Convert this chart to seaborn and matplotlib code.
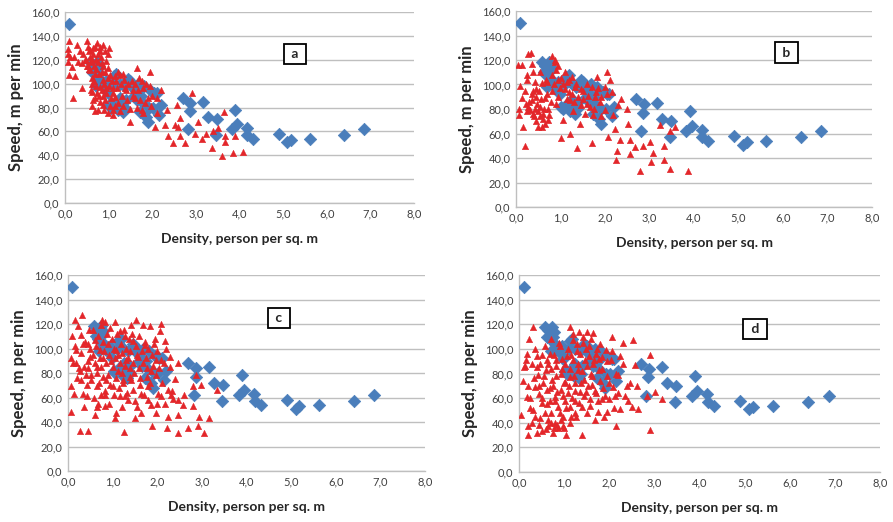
import numpy as np
import pandas as pd
import matplotlib
matplotlib.use("Agg")
import matplotlib.pyplot as plt
import seaborn as sns
from matplotlib.ticker import FuncFormatter

sns.set_style("white")
plt.rcParams['font.family'] = ['Lato', 'DejaVu Sans']

# ---- data ----
panel_labels = ["a", "b", "c", "d"]

blue_x = [0.10, 0.58, 0.62, 0.68, 0.74, 0.78, 0.70, 0.80, 0.85, 0.92, 0.98, 1.02, 1.06, 1.12,
          1.18, 1.22, 1.28, 1.32, 1.38, 1.45, 1.50, 1.58, 1.62, 1.68, 1.72, 1.78, 1.82, 1.86,
          1.90, 1.96, 2.02, 2.10, 2.16, 2.20, 2.70, 2.87, 2.86, 2.82, 3.17, 3.28, 3.48, 3.45,
          3.90, 3.83, 3.95, 4.17, 4.18, 4.32, 4.90, 5.10, 5.18, 5.62, 6.40, 6.86,
          0.65, 0.75, 0.82, 0.95, 1.10, 1.25, 1.35, 1.55, 1.75, 1.25, 1.40, 1.15, 1.65, 1.92, 2.05]
blue_y = [150, 118, 110, 108, 118, 114, 98, 104, 100, 96, 92, 82, 80, 106,
          108, 78, 84, 76, 80, 104, 102, 90, 94, 100, 76, 84, 98, 72,
          68, 94, 80, 92, 74, 82, 88, 84, 77, 62, 85, 72, 70, 57,
          78, 62, 66, 63, 57, 54, 58, 51, 53, 54, 57, 62,
          115, 110, 100, 102, 100, 100, 98, 96, 90, 88, 86, 84, 86, 80, 92]

red_a = [(0.1,136),(0.08,129),(0.06,125),(0.08,118),(0.11,122),(0.15,114),(0.09,107),(0.23,106),
         (0.18,88),(0.27,132),(0.34,127),(0.42,125),(0.38,117),(0.4,96),(0.51,136),(0.53,131),
         (0.57,128),(0.48,120),(0.53,115),(0.57,111),(0.61,121),(0.65,125),(0.69,131),(0.73,134),
         (0.8,131),(0.88,132),(0.92,127),(0.99,125),(0.66,115),(0.76,118),(0.84,117),(0.69,108),
         (0.61,100),(0.61,93),(0.65,86),(0.63,81),(0.69,77),(0.76,78),(0.8,85),(0.88,90),
         (0.73,92),(0.8,97),(0.88,103),(0.92,110),(0.99,113),(1.03,107),(0.95,96),(0.92,86),
         (0.99,75),(1.03,81),(1.11,74),(1.15,81),(1.15,89),(1.11,96),(1.18,102),(1.22,110),
         (1.26,107),(1.35,103),(1.37,96),(1.34,81),(1.41,86),(1.49,79),(1.49,68),(1.53,102),
         (1.56,95),(1.6,88),(1.64,113),(1.68,95),(1.72,86),(1.76,102),(1.79,96),(1.76,78),
         (1.83,84),(1.79,75),(1.95,110),(1.98,81),(2.1,88),(2.06,64),(2.1,75),(2.21,95),
         (2.33,78),(2.29,65),(2.37,56),(2.48,50),(2.52,65),(2.6,64),(2.63,71),(2.56,82),
         (2.63,56),(2.75,50),(2.9,92),(2.98,58),(3.05,68),(3.13,54),(3.24,58),(3.36,46),
         (3.4,60),(3.51,63),(3.59,39),(3.64,76),(3.66,56),(3.66,51),(3.85,42),(3.89,56),
         (4.08,43),
         (0.55,112),(0.6,118),(0.62,105),(0.66,102),(0.7,120),(0.72,112),(0.75,125),(0.78,108),
         (0.82,122),(0.85,110),(0.88,115),(0.9,100),(0.95,119),(0.98,105),(0.6,95),(0.68,88),
         (0.72,98),(0.78,90),(0.84,95),(0.86,82),(0.9,78),(0.94,92),(1.0,98),(1.05,88),
         (1.08,102),(1.1,92),(1.15,106),(1.2,96),(1.22,84),(1.28,100),(1.3,90),(1.33,108),
         (1.4,95),(1.45,100),(1.25,77),(1.1,78),(1.55,90),(1.6,100),(1.7,105),(1.65,80),
         (1.85,100),(1.9,88),(2.0,90),(1.95,98),(0.45,120),(0.5,115),(0.55,127),(0.65,130),
         (0.58,122),(0.8,127),(1.0,130),(0.3,118),(0.2,122)]

red_b = [(0.05,116),(0.13,116),(0.09,99),(0.13,89),(0.07,80),(0.07,75),(0.15,65),(0.2,50),
         (0.24,108),(0.25,104),(0.2,95),(0.22,84),(0.28,82),(0.31,79),(0.28,125),(0.33,126),
         (0.35,117),(0.39,110),(0.43,102),(0.39,95),(0.46,90),(0.35,87),(0.4,74),(0.5,78),
         (0.46,70),(0.5,65),(0.54,110),(0.58,101),(0.54,82),(0.61,76),(0.58,65),(0.65,89),
         (0.69,102),(0.73,80),(0.73,71),(0.8,95),(0.82,123),(0.88,120),(0.91,112),(0.95,104),
         (0.95,90),(0.99,97),(1.0,56),(1.05,71),(1.1,110),(1.14,102),(1.18,94),(1.21,87),
         (1.21,60),(1.25,106),(1.29,78),(1.36,48),(1.32,98),(1.4,90),(1.44,68),(1.47,83),
         (1.51,95),(1.59,100),(1.62,91),(1.66,82),(1.7,52),(1.74,75),(1.77,90),(1.81,106),
         (1.85,97),(1.89,86),(1.92,74),(2.0,98),(2.0,79),(2.04,110),(2.07,57),(2.11,104),
         (2.15,94),(2.19,75),(2.22,64),(2.24,38),(2.26,46),(2.3,83),(2.33,55),(2.37,88),
         (2.49,80),(2.52,68),(2.56,43),(2.56,55),(2.67,49),(2.78,29),(2.86,50),(3.01,53),
         (3.04,37),(3.08,44),(3.23,67),(3.32,38),(3.32,50),(3.46,62),(3.46,31),(3.57,65),
         (3.87,29),
         (0.3,86),(0.35,92),(0.42,80),(0.48,84),(0.52,95),(0.56,88),(0.6,72),(0.62,80),
         (0.66,68),(0.7,92),(0.75,75),(0.78,86),(0.85,100),(0.9,84),(1.0,105),(1.05,100),
         (1.1,96),(1.15,88),(1.2,104),(1.25,92),(1.3,86),(1.35,100),(1.45,96),(1.5,88),
         (1.55,76),(1.6,84),(1.7,98),(1.75,80),(1.8,94),(1.9,90),(2.05,92),(0.25,78),
         (0.45,96),(0.38,76),(0.55,74),(0.68,104),(0.8,108),(0.95,115),(0.88,118)]

red_c = [(0.06,92),(0.1,110),(0.07,69),(0.07,48),(0.15,123),(0.22,118),(0.17,99),(0.19,88),
         (0.13,63),(0.26,33),(0.32,127),(0.29,111),(0.34,104),(0.26,82),(0.3,74),(0.34,63),
         (0.35,52),(0.42,61),(0.45,33),(0.45,104),(0.49,93),(0.45,84),(0.52,78),(0.52,74),
         (0.56,115),(0.6,107),(0.6,46),(0.64,69),(0.64,85),(0.67,55),(0.71,99),(0.75,119),
         (0.77,123),(0.82,122),(0.79,92),(0.79,77),(0.82,53),(0.82,62),(0.86,74),(0.9,104),
         (0.93,117),(0.97,90),(1.01,69),(1.05,122),(1.05,43),(1.08,47),(1.12,82),(1.08,99),
         (1.16,114),(1.16,61),(1.23,74),(1.25,32),(1.27,110),(1.27,61),(1.35,58),(1.31,91),
         (1.38,77),(1.42,119),(1.46,106),(1.46,66),(1.5,57),(1.5,43),(1.53,123),(1.57,93),
         (1.61,70),(1.64,47),(1.64,63),(1.68,119),(1.72,103),(1.76,77),(1.79,69),(1.83,118),
         (1.87,82),(1.87,54),(1.89,37),(1.92,104),(1.97,91),(1.98,47),(2.02,63),(2.06,114),
         (2.09,120),(2.09,91),(2.09,61),(2.17,106),(2.17,55),(2.21,35),(2.24,44),(2.28,93),
         (2.28,85),(2.32,65),(2.36,59),(2.47,88),(2.47,58),(2.47,46),(2.47,31),(2.58,54),
         (2.69,35),(2.8,69),(2.8,53),(2.87,78),(2.93,44),(2.92,37),(2.99,70),(3.04,31),
         (3.16,43),(3.34,66),
         (0.55,95),(0.6,88),(0.62,102),(0.65,80),(0.68,110),(0.7,72),(0.72,92),(0.75,85),
         (0.78,105),(0.8,98),(0.83,65),(0.85,88),(0.88,112),(0.9,78),(0.92,95),(0.95,70),
         (0.98,108),(1.0,85),(1.02,100),(1.04,62),(1.06,92),(1.08,76),(1.1,112),(1.12,95),
         (1.14,68),(1.16,88),(1.18,104),(1.2,80),(1.22,96),(1.24,72),(1.26,115),(1.28,86),
         (1.3,100),(1.32,64),(1.34,92),(1.36,108),(1.38,84),(1.4,98),(1.42,74),(1.44,112),
         (1.46,88),(1.48,80),(1.52,102),(1.55,95),(1.58,84),(1.6,110),(1.62,76),(1.65,98),
         (1.68,88),(1.7,62),(1.72,105),(1.75,92),(1.78,84),(1.8,100),(1.84,72),(1.88,95),
         (1.9,86),(1.94,108),(1.98,78),(2.0,98),(2.05,84),(2.1,72),(2.15,88),(2.2,100),
         (2.25,66),(0.3,96),(0.35,85),(0.38,105),(0.4,78),(0.45,90),(0.5,100),(0.42,70),
         (0.48,115),(0.25,84),(0.2,76),(0.15,102),(0.12,88),(0.58,60),(0.66,52),(0.74,62),
         (0.92,55),(1.2,52),(1.55,52),(1.8,58),(2.0,55),(2.3,62),(2.4,75),(2.6,62)]

red_d = [(0.04,46),(0.08,74),(0.13,86),(0.15,91),(0.17,61),(0.19,37),(0.21,30),(0.23,108),
         (0.24,52),(0.28,40),(0.32,118),(0.33,76),(0.36,69),(0.36,45),(0.39,32),(0.39,94),
         (0.43,79),(0.45,63),(0.47,88),(0.47,44),(0.5,56),(0.5,33),(0.54,72),(0.58,48),
         (0.6,83),(0.61,91),(0.63,67),(0.65,37),(0.69,58),(0.69,96),(0.72,84),(0.72,48),
         (0.75,32),(0.76,70),(0.8,61),(0.8,40),(0.83,78),(0.83,91),(0.87,53),(0.87,36),
         (0.91,102),(0.92,67),(0.95,84),(0.97,45),(0.98,37),(1.02,58),(1.02,73),(1.04,30),
         (1.06,94),(1.09,64),(1.12,118),(1.13,40),(1.13,53),(1.14,77),(1.19,107),(1.2,91),
         (1.23,72),(1.24,58),(1.26,45),(1.29,98),(1.31,83),(1.34,114),(1.35,65),(1.39,30),
         (1.39,53),(1.41,105),(1.44,75),(1.46,91),(1.48,65),(1.5,48),(1.51,114),(1.56,102),
         (1.57,59),(1.59,80),(1.61,71),(1.65,113),(1.66,91),(1.68,42),(1.71,64),(1.72,100),
         (1.74,49),(1.78,83),(1.79,104),(1.83,59),(1.85,93),(1.87,68),(1.88,45),(1.93,99),
         (1.94,78),(1.96,49),(2.0,59),(2.03,91),(2.07,110),(2.09,69),(2.13,62),(2.16,37),
         (2.19,79),(2.24,94),(2.24,51),(2.31,105),(2.35,62),(2.39,70),(2.42,58),(2.5,53),
         (2.53,107),(2.57,87),(2.61,70),(2.63,51),(2.83,62),(2.9,95),(2.9,34),(3.01,65),
         (3.16,59),
         (0.35,100),(0.4,85),(0.45,70),(0.5,95),(0.52,60),(0.55,78),(0.58,102),(0.62,55),
         (0.65,88),(0.68,68),(0.7,108),(0.72,40),(0.74,75),(0.78,95),(0.8,58),(0.82,86),
         (0.85,65),(0.88,105),(0.9,48),(0.92,80),(0.95,92),(0.98,62),(1.0,72),(1.02,88),
         (1.05,52),(1.08,100),(1.1,70),(1.12,84),(1.15,95),(1.18,60),(1.2,112),(1.22,78),
         (1.25,66),(1.28,104),(1.3,88),(1.32,56),(1.35,96),(1.38,72),(1.4,82),(1.42,110),
         (1.45,62),(1.48,100),(1.5,86),(1.52,70),(1.55,94),(1.58,54),(1.6,108),(1.62,78),
         (1.65,88),(1.68,66),(1.7,96),(1.75,58),(1.78,92),(1.8,74),(1.85,84),(1.9,62),
         (1.95,90),(2.0,72),(2.05,98),(2.1,52),(2.15,80),(2.2,64),(2.3,88),(2.45,72),
         (0.25,60),(0.3,50),(0.2,70),(0.45,38),(0.6,35),(0.85,38),(1.0,36),(1.15,45),
         (0.65,42),(0.92,42),(0.78,36),(1.25,48),(0.1,85),(0.18,96),(0.28,88)]

red_sets = [red_a, red_b, red_c, red_d]
label_pos = [(5.27, 125), (6.07, 126), (4.73, 125), (5.23, 116)]

x_ticks = [0, 1, 2, 3, 4, 5, 6, 7, 8]
y_ticks = [0, 20, 40, 60, 80, 100, 120, 140, 160]

# ---- layout ----
W, H = 893, 522
fig = plt.figure(figsize=(W / 100, H / 100), dpi=100)
boxes_px = [(65, 12, 414, 203), (516, 11, 872, 207), (68, 275, 425, 471), (519, 275, 880, 472)]

BLUE = "#4A7EBB"
RED = "#E3262A"
GRID = "#BFBFBF"
fmt = FuncFormatter(lambda v, p: f"{v:.1f}".replace(".", ","))

blue_df = pd.DataFrame({"Density": blue_x, "Speed": blue_y})

for i, (x0, y0, x1, y1) in enumerate(boxes_px):
    ax = fig.add_axes([x0 / W, (H - y1) / H, (x1 - x0) / W, (y1 - y0) / H])
    red_df = pd.DataFrame(red_sets[i], columns=["Density", "Speed"])
    sns.scatterplot(data=blue_df, x="Density", y="Speed", marker="D", s=40,
                    color=BLUE, edgecolor=BLUE, linewidth=0.5, ax=ax, zorder=3)
    sns.scatterplot(data=red_df, x="Density", y="Speed", marker="^", s=22,
                    color=RED, edgecolor=RED, linewidth=0.3, ax=ax, zorder=4)
    ax.set_xlim(0, 8)
    ax.set_ylim(0, 160)
    ax.set_xticks(x_ticks)
    ax.set_yticks(y_ticks)
    ax.xaxis.set_major_formatter(fmt)
    ax.yaxis.set_major_formatter(fmt)
    ax.grid(axis="y", color=GRID, linewidth=1)
    ax.grid(axis="x", visible=False)
    ax.set_axisbelow(True)
    for s in ["top", "right"]:
        ax.spines[s].set_visible(False)
    for s in ["left", "bottom"]:
        ax.spines[s].set_color(GRID)
        ax.spines[s].set_linewidth(1)
    ax.tick_params(axis="both", length=0, labelsize=8, colors="#404040", pad=4)
    ax.set_xlabel("Density, person per sq. m", fontsize=10, fontweight="bold", labelpad=10)
    ax.set_ylabel("Speed, m per min", fontsize=12, fontweight="bold", labelpad=5)
    lx, ly = label_pos[i]
    ax.text(lx, ly, f" {panel_labels[i]} ", ha="center", va="center", fontsize=10, fontweight="bold",
            bbox=dict(boxstyle="square,pad=0.3", fc="white", ec="black", lw=1.3), zorder=5)

fig.savefig("out.png", dpi=100)
